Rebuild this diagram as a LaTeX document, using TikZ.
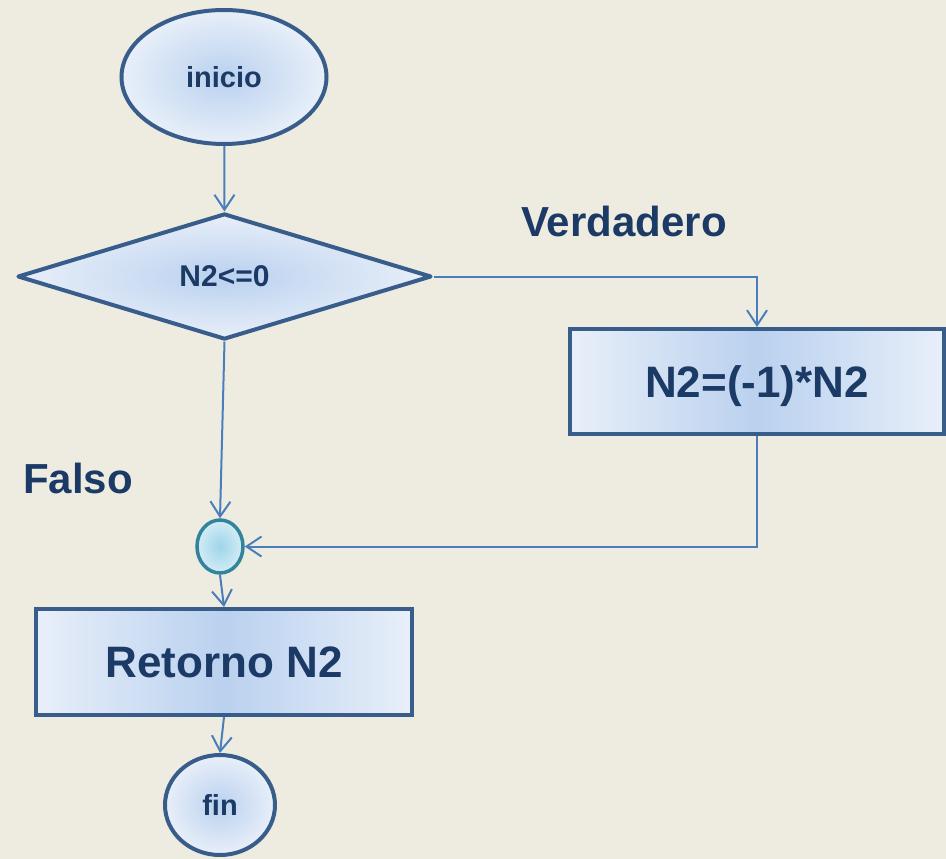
\documentclass[tikz,border=0pt]{standalone}
\usepackage{fontspec}
\setmainfont{Liberation Sans}
\usetikzlibrary{shapes.geometric,arrows.meta}

\definecolor{paper}{HTML}{EEECE1}
\definecolor{edge}{HTML}{385D8A}
\definecolor{wire}{HTML}{4A7EBB}
\definecolor{ink}{HTML}{1B3A65}
\definecolor{fillin}{HTML}{BAD1EF}
\definecolor{fillout}{HTML}{E8EFF9}
\definecolor{tealedge}{HTML}{31849B}
\definecolor{tealin}{HTML}{9DD5EA}
\definecolor{tealout}{HTML}{D4ECF5}

\tikzset{
  box/.style={draw=edge, line width=4pt, inner sep=0pt, text=ink, text depth=0pt,
    font=\fontsize{44}{50}\selectfont\bfseries},
  term/.style={box, ellipse, inner color=fillin, outer color=fillout,
    font=\fontsize{29}{34}\selectfont\bfseries},
  decision/.style={box, diamond, line join=round, inner color=fillin, outer color=fillout,
    font=\fontsize{30}{34}\selectfont\bfseries},
  process/.style={box, rectangle, left color=fillout, right color=fillout, middle color=fillin},
  joint/.style={ellipse, draw=tealedge, line width=3.5pt, inner sep=0pt,
    inner color=tealin, outer color=tealout},
  flow/.style={draw=wire, line width=2pt, -{Straight Barb[length=15pt, width=20pt, line width=2pt]}},
  tag/.style={text=ink, font=\fontsize{42}{48}\selectfont\bfseries, inner sep=0pt}
}

\begin{document}
\begin{tikzpicture}[x=1pt, y=-1pt]
  \useasboundingbox[fill=paper] (0,0) rectangle (946,859);

  % flowchart blocks
  \node[term, minimum width=205, minimum height=134] (start) at (224,77) {inicio};
  \node[decision, minimum width=414, minimum height=126] (test) at (224.5,276.5) {N2<=0};
  \node[process, minimum width=374, minimum height=105] (negate) at (757,381.5) {N2=(-1)*N2};
  \node[joint, minimum width=46, minimum height=53] (merge) at (220,546.5) {};
  \node[process, minimum width=376, minimum height=106] (ret) at (224,662) {Retorno N2};
  \node[term, minimum width=110, minimum height=100] (stop) at (220,805) {fin};

  % branch labels
  \node[tag] (yes) at (624,221) {Verdadero};
  \node[tag] (no) at (78,478) {Falso};

  % connectors
  \draw[flow] (start) -- (test.north);
  \draw[flow] (test.east) -| (negate.north);
  \draw[flow] (test.south) -- (merge.north);
  \draw[flow] (negate.south) |- (merge.east);
  \draw[flow] (merge.south) -- (ret.north);
  \draw[flow] (ret.south) -- (stop.north);
\end{tikzpicture}
\end{document}
